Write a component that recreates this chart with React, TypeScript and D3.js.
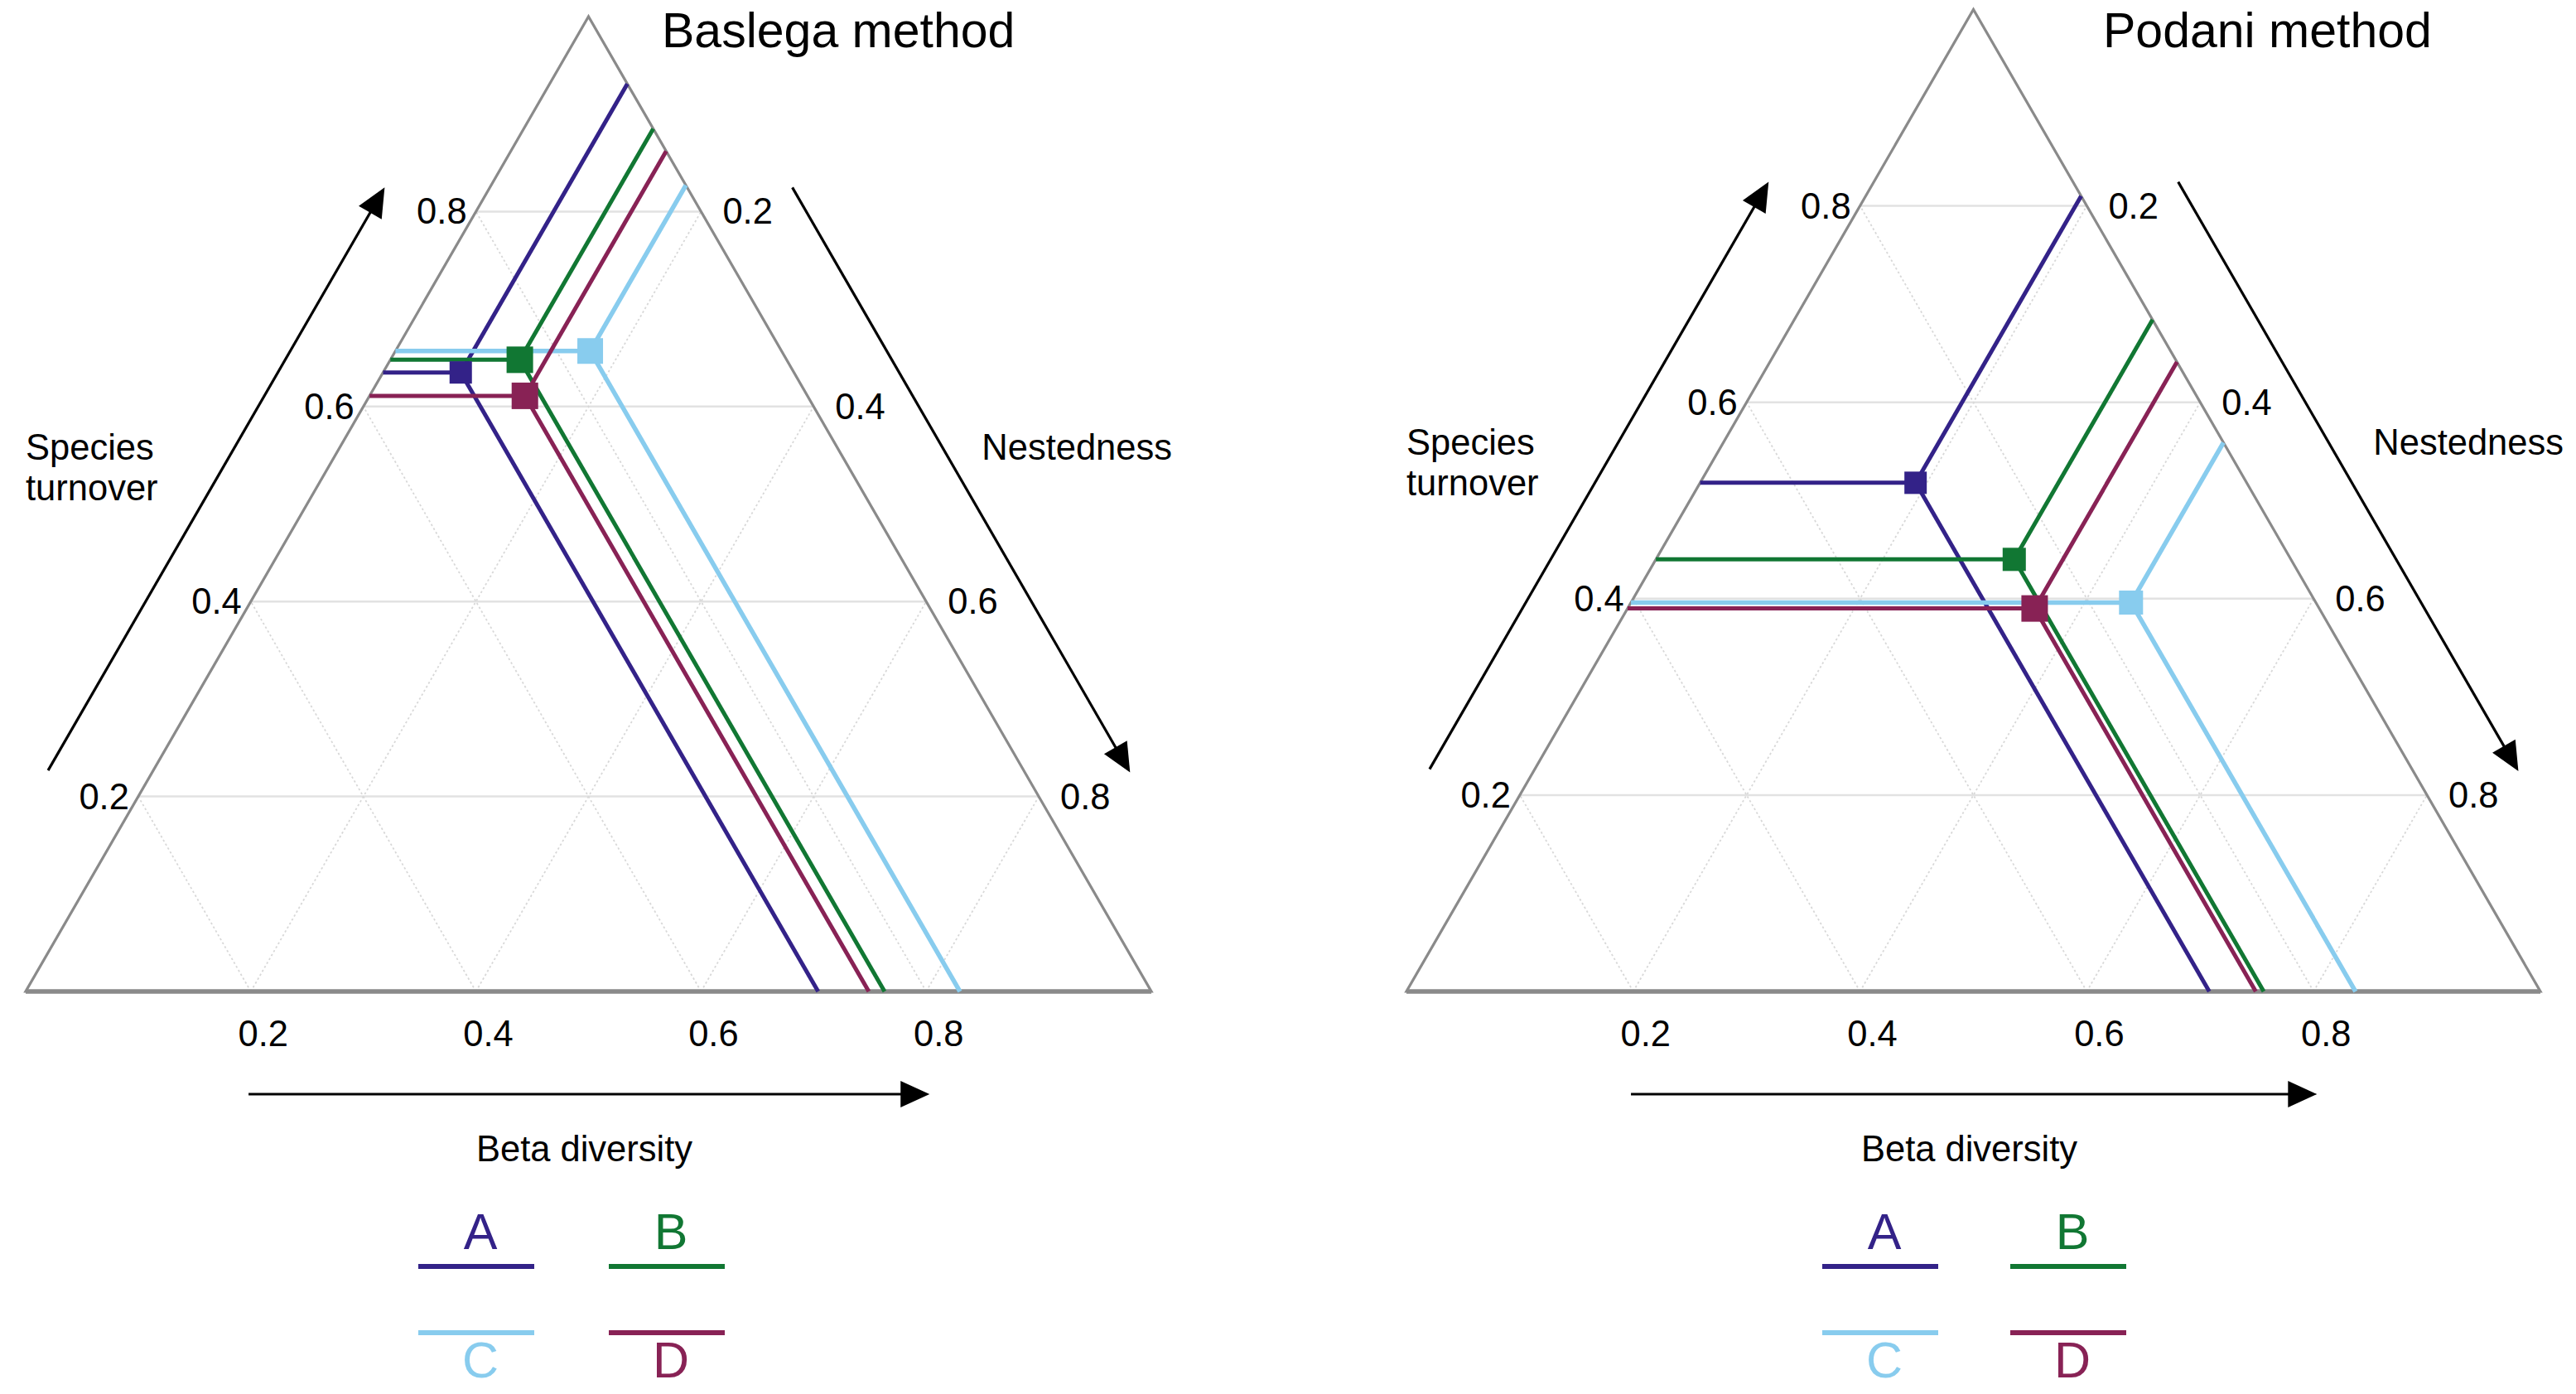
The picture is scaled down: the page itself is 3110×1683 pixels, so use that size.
import React from "react";
import * as d3 from "d3";

// ---- data ----
const groups = ["A", "B", "C", "D"];
const groupColors = ["#332288", "#117733", "#88CCEE", "#882255"];
const baselgaTurnover = [0.635, 0.648, 0.657, 0.611];
const baselgaNestedness = [0.069, 0.115, 0.173, 0.138];
const podaniTurnover = [0.518, 0.44, 0.396, 0.39];
const podaniNestedness = [0.19, 0.316, 0.441, 0.359];
const tickValues = [0.2, 0.4, 0.6, 0.8];
const titles = ["Baslega method", "Podani method"];

// ---- layout (styles / positions) ----
const baselgaMarker = [27, 32, 31, 32];
const podaniMarker = [27, 28, 29, 32];

const panels = [
  {
    title: titles[0],
    turnover: baselgaTurnover,
    nested: baselgaNestedness,
    marker: baselgaMarker,
    x0: 31,
    base: 1197,
    width: 1359,
    titleX: 799,
    labelY: 555,
    nestRight: 1415,
    legendCols: [575, 805],
  },
  {
    title: titles[1],
    turnover: podaniTurnover,
    nested: podaniNestedness,
    marker: podaniMarker,
    x0: 1698,
    base: 1197,
    width: 1369,
    titleX: 2539,
    labelY: 549,
    nestRight: 3095,
    legendCols: [2270, 2497],
  },
];

const FONT = "'Liberation Sans', Arial, Helvetica, sans-serif";
const EDGE = "#8a8a8a";
const GRID = "#e2e2e2";

function Arrow({ x1, y1, x2, y2 }: { x1: number; y1: number; x2: number; y2: number }) {
  const dx = x2 - x1;
  const dy = y2 - y1;
  const len = Math.hypot(dx, dy);
  const ux = dx / len;
  const uy = dy / len;
  const hl = 35;
  const hw = 16;
  const bx = x2 - ux * hl;
  const by = y2 - uy * hl;
  const pts = [
    [x2, y2],
    [bx - uy * hw, by + ux * hw],
    [bx + uy * hw, by - ux * hw],
  ]
    .map((p) => p.join(","))
    .join(" ");
  return (
    <g>
      <line x1={x1} y1={y1} x2={bx + ux * 2} y2={by + uy * 2} stroke="#000" strokeWidth={3.2} />
      <polygon points={pts} fill="#000" />
    </g>
  );
}

function Panel({ p }: { p: (typeof panels)[number] }) {
  const H = (p.width * Math.sqrt(3)) / 2;
  const xs = d3.scaleLinear().domain([0, 1]).range([p.x0, p.x0 + p.width]);
  const ys = d3.scaleLinear().domain([0, 1]).range([p.base, p.base - H]);
  // T = turnover (top vertex), N = nestedness (bottom-right vertex)
  const pos = (T: number, N: number): [number, number] => [xs(N + T / 2), ys(T)];
  const fmt = d3.format(".1f");
  const line = d3.line();

  const L = pos(0, 0);
  const R = pos(0, 1);
  const A = pos(1, 0);

  const off = 110;
  const along = (a: [number, number], b: [number, number], t: number, nx: number, ny: number): [number, number] => [
    a[0] + (b[0] - a[0]) * t + nx * off,
    a[1] + (b[1] - a[1]) * t + ny * off,
  ];
  const s3 = Math.sqrt(3) / 2;
  const la1 = along(L, A, 0.18, -s3, -0.5);
  const la2 = along(L, A, 0.778, -s3, -0.5);
  const ra1 = along(A, R, 0.222, s3, -0.5);
  const ra2 = along(A, R, 0.822, s3, -0.5);
  const ba1: [number, number] = [xs(0.198), p.base + 124];
  const ba2: [number, number] = [xs(0.803), p.base + 124];

  const cx = (L[0] + R[0]) / 2;

  return (
    <g>
      {/* grid */}
      {tickValues.map((k) => (
        <g key={"g" + k}>
          <path d={line([pos(k, 0), pos(k, 1 - k)])!} stroke={GRID} strokeWidth={2.5} fill="none" />
          <path d={line([pos(0, k), pos(1 - k, k)])!} stroke="#d8d8d8" strokeWidth={1.8} strokeDasharray="2.5,3" fill="none" />
          <path d={line([pos(0, k), pos(k, 0)])!} stroke="#d8d8d8" strokeWidth={1.8} strokeDasharray="2.5,3" fill="none" />
        </g>
      ))}
      {/* triangle */}
      <path d={line([L, R, A])! + "Z"} fill="none" stroke={EDGE} strokeWidth={3.2} strokeLinejoin="miter" />
      <path d={line([L, R])!} stroke={EDGE} strokeWidth={5.5} />

      {/* tick labels */}
      {tickValues.map((k) => {
        const lp = pos(k, 0);
        const rp = pos(k, 1 - k);
        const bp = pos(0, k);
        return (
          <g key={"t" + k} fontFamily={FONT} fontSize={43.5} fill="#000">
            <text x={lp[0] - 11} y={lp[1]} textAnchor="end" dominantBaseline="central">
              {fmt(k)}
            </text>
            <text x={rp[0] + 26} y={rp[1]} textAnchor="start" dominantBaseline="central">
              {fmt(1 - k)}
            </text>
            <text x={bp[0] + 15} y={p.base + 51} textAnchor="middle" dominantBaseline="central">
              {fmt(k)}
            </text>
          </g>
        );
      })}

      {/* arrows */}
      <Arrow x1={la1[0]} y1={la1[1]} x2={la2[0]} y2={la2[1]} />
      <Arrow x1={ra1[0]} y1={ra1[1]} x2={ra2[0]} y2={ra2[1]} />
      <Arrow x1={ba1[0]} y1={ba1[1]} x2={ba2[0]} y2={ba2[1]} />

      {/* axis titles */}
      <g fontFamily={FONT} fontSize={43.5} fill="#000">
        <text x={p.x0} y={p.labelY}>Species</text>
        <text x={p.x0} y={p.labelY + 49}>turnover</text>
        <text x={p.nestRight} y={p.labelY} textAnchor="end">
          Nestedness
        </text>
        <text x={cx - 5} y={p.base + 205} textAnchor="middle">
          Beta diversity
        </text>
      </g>
      <text x={p.titleX} y={57} fontFamily={FONT} fontSize={59} fill="#000">
        {p.title}
      </text>

      {/* data lines */}
      {groups.map((g, i) => {
        const T = p.turnover[i];
        const N = p.nested[i];
        const P = pos(T, N);
        return (
          <g key={"l" + g} stroke={groupColors[i]} strokeWidth={i === 2 ? 5.5 : 5} fill="none">
            <path d={line([pos(T, 0), P])!} />
            <path d={line([P, pos(1 - N, N)])!} />
            <path d={line([P, pos(0, T + N)])!} />
          </g>
        );
      })}
      {groups.map((g, i) => {
        const P = pos(p.turnover[i], p.nested[i]);
        const s = p.marker[i];
        return <rect key={"m" + g} x={P[0] - s / 2} y={P[1] - s / 2} width={s} height={s} fill={groupColors[i]} />;
      })}

      {/* legend */}
      {groups.map((g, i) => {
        const col = i === 0 || i === 2 ? 0 : 1;
        const row = i < 2 ? 0 : 1;
        const lx = p.legendCols[col];
        const ly = row === 0 ? 1529 : 1609;
        const ty = row === 0 ? 1508 : 1663;
        return (
          <g key={"k" + g}>
            <line x1={lx - 70} x2={lx + 70} y1={ly} y2={ly} stroke={groupColors[i]} strokeWidth={6} />
            <text x={lx + 5} y={ty} textAnchor="middle" fontFamily={FONT} fontSize={61} fill={groupColors[i]}>
              {g}
            </text>
          </g>
        );
      })}
    </g>
  );
}

export default function App() {
  return (
    <svg
      width={3110}
      height={1683}
      viewBox="0 0 3110 1683"
      style={{ position: "absolute", left: 0, top: 0, display: "block", background: "#fff" }}
    >
      <rect width={3110} height={1683} fill="#fff" />
      {panels.map((p) => (
        <Panel key={p.title} p={p} />
      ))}
    </svg>
  );
}
